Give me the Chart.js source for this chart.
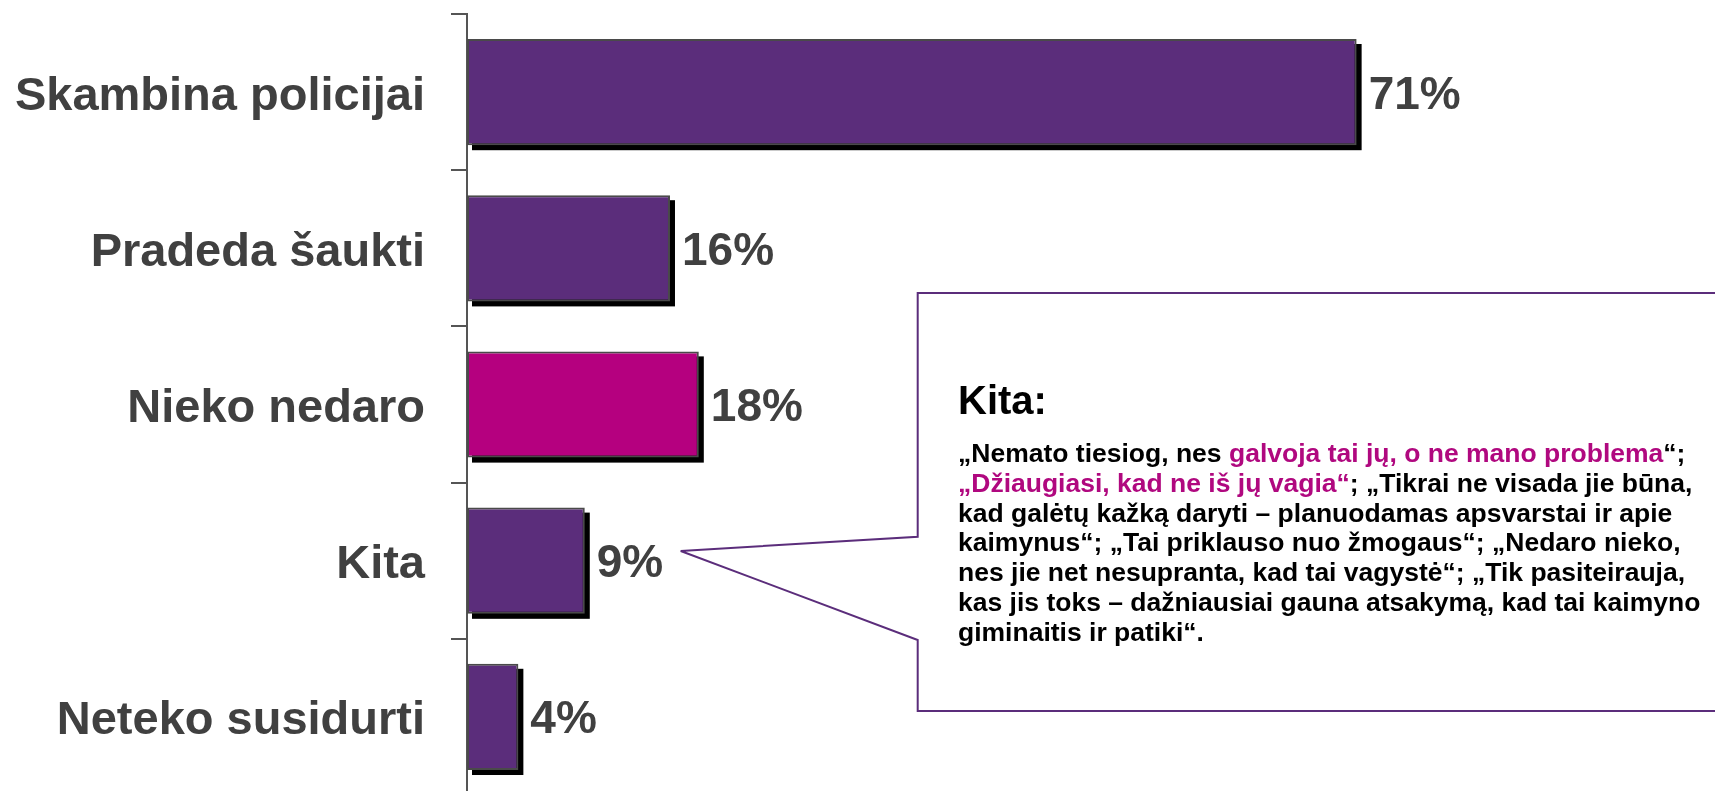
<!DOCTYPE html>
<html>
<head>
<meta charset="utf-8">
<script src="https://cdn.jsdelivr.net/npm/chart.js@4"></script>
<style>
  html, body { margin: 0; padding: 0; background: #fff; overflow: hidden; }
  #wrap { position: relative; width: 1715px; height: 791px; overflow: hidden; }
  #c { position: absolute; left: 0; top: 0; }
  #callout { position: absolute; left: 0; top: 0; }
  .txt { position: absolute; font-family: "Liberation Sans", Arial, sans-serif; font-weight: bold; white-space: nowrap; color: #000; }
  #head { left: 958px; top: 380px; font-size: 40px; line-height: 40px; }
  #body { left: 958px; top: 439px; font-size: 26.5px; line-height: 29.8px; }
  .hl { color: #B0087F; }
</style>
</head>
<body>
<div id="wrap">
  <canvas id="c" width="1720" height="800"></canvas>
  <svg id="callout" width="1715" height="791">
    <polygon points="917.7,536.7 917.7,293 1730,293 1730,711 917.7,711 917.7,640 680.7,551"
             fill="none" stroke="#5B2D7B" stroke-width="2"/>
  </svg>
  <div class="txt" id="head">Kita:</div>
  <div class="txt" id="body">„Nemato tiesiog, nes <span class="hl">galvoja tai jų, o ne mano problema</span>“;<br><span class="hl">„Džiaugiasi, kad ne iš jų vagia“</span>; „Tikrai ne visada jie būna,<br>kad galėtų kažką daryti – planuodamas apsvarstai ir apie<br>kaimynus“; „Tai priklauso nuo žmogaus“; „Nedaro nieko,<br>nes jie net nesupranta, kad tai vagystė“; „Tik pasiteirauja,<br>kas jis toks – dažniausiai gauna atsakymą, kad tai kaimyno<br>giminaitis ir patiki“.</div>
</div>
<script>
const categories = ["Skambina policijai", "Pradeda šaukti", "Nieko nedaro", "Kita", "Neteko susidurti"];
const values = [71, 16.2, 18.5, 9.4, 4.1];
const valueLabels = ["71%", "16%", "18%", "9%", "4%"];
const barColors = ["#5B2D7B", "#5B2D7B", "#B5007F", "#5B2D7B", "#5B2D7B"];

const FONT = '"Liberation Sans", Arial, sans-serif';

const shadowPlugin = {
  id: 'shadow',
  beforeDatasetsDraw(chart) {
    const ctx = chart.ctx;
    const meta = chart.getDatasetMeta(0);
    ctx.save();
    ctx.fillStyle = '#000';
    meta.data.forEach(bar => {
      const p = bar.getProps(['x', 'y', 'base', 'height'], true);
      ctx.fillRect(p.base + 5, p.y - p.height / 2 + 5, p.x - p.base, p.height);
    });
    ctx.restore();
  }
};

const valueLabelPlugin = {
  id: 'valueLabels',
  afterDatasetsDraw(chart) {
    const ctx = chart.ctx;
    const meta = chart.getDatasetMeta(0);
    ctx.save();
    ctx.fillStyle = '#404040';
    ctx.font = 'bold 46px ' + FONT;
    ctx.textAlign = 'left';
    ctx.textBaseline = 'alphabetic';
    meta.data.forEach((bar, i) => {
      const p = bar.getProps(['x', 'y'], true);
      ctx.fillText(valueLabels[i], p.x + 12, p.y + 16.5);
    });
    ctx.restore();
  }
};

new Chart(document.getElementById('c'), {
  type: 'bar',
  data: {
    labels: categories,
    datasets: [{
      data: values,
      backgroundColor: barColors,
      borderColor: '#4a4a4a',
      borderWidth: 2,
      borderSkipped: false,
      barPercentage: 0.68,
      categoryPercentage: 1
    }]
  },
  options: {
    indexAxis: 'y',
    responsive: false,
    animation: false,
    devicePixelRatio: 1,
    layout: { padding: { top: 14, bottom: 5, left: 0, right: 0 } },
    plugins: { legend: { display: false }, tooltip: { enabled: false } },
    scales: {
      x: { type: 'linear', min: 0, max: 100, display: false },
      y: {
        type: 'category',
        offset: true,
        grid: { offset: true, drawOnChartArea: false, drawTicks: true, tickLength: 16, color: '#555', lineWidth: 2 },
        border: { display: true, color: '#555', width: 2 },
        ticks: { color: '#404040', font: { family: FONT, size: 47, weight: 'bold' }, padding: 26, labelOffset: 4.5 },
        afterFit(scale) {
          scale.width = 467;
          scale.paddingTop = 0;
          scale.paddingBottom = 0;
        }
      }
    }
  },
  plugins: [shadowPlugin, valueLabelPlugin]
});
</script>
</body>
</html>
